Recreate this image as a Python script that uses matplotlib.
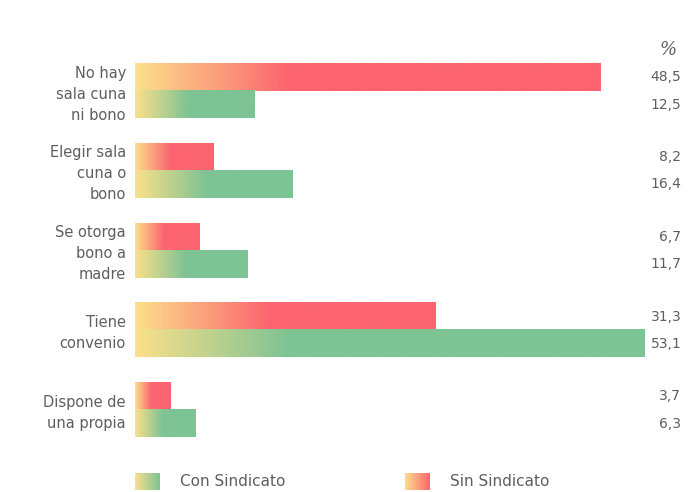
import numpy as np
import matplotlib
matplotlib.use('Agg')
import matplotlib.pyplot as plt
from matplotlib.colors import to_rgb

categorias = ['No hay\nsala cuna\nni bono', 'Elegir sala\ncuna o\nbono',
              'Se otorga\nbono a\nmadre', 'Tiene\nconvenio', 'Dispone de\nuna propia']
sin_sindicato = [48.5, 8.2, 6.7, 31.3, 3.7]
con_sindicato = [12.5, 16.4, 11.7, 53.1, 6.3]
etiquetas_sin = ['48,5', '8,2', '6,7', '31,3', '3,7']
etiquetas_con = ['12,5', '16,4', '11,7', '53,1', '6,3']

AMARILLO = to_rgb('#fbe08a')
ROJO = to_rgb('#fb6470')
VERDE = to_rgb('#7ec394')
TEXTO = '#5e5e5e'

plt.rcParams['font.family'] = ['DejaVu Sans']

W, H = 693, 492
fig = plt.figure(figsize=(W / 100, H / 100), dpi=100)

# capa de fondo en pixeles (leyenda, simbolo %)
bg = fig.add_axes([0, 0, 1, 1])
bg.axis('off')

px_unit = 9.6
x0 = 135
ax = fig.add_axes([x0 / W, 0, (W - x0) / W, 1])
ax.axis('off')


def gradiente(ax, x_ini, x_fin, y0, y1, color, frac=0.45, tope=16):
    n = 200
    xs = np.linspace(x_ini, x_fin, n)
    largo = min((x_fin - x_ini) * frac, tope) if frac else (x_fin - x_ini)
    t = np.clip((xs - x_ini) / largo, 0, 1)
    a = np.array(AMARILLO)
    b = np.array(color)
    img = a[None, :] * (1 - t[:, None]) + b[None, :] * t[:, None]
    ax.imshow(img[None, :, :], extent=(x_ini, x_fin, y1, y0), aspect='auto',
              interpolation='bilinear', zorder=2)


alto = 0.34
for i, cat in enumerate(categorias):
    gradiente(ax, 0, sin_sindicato[i], i - alto, i, ROJO)
    gradiente(ax, 0, con_sindicato[i], i, i + alto, VERDE)
    ax.text(-0.95, i + 0.04, cat, ha='right', va='center', fontsize=10.5,
            color=TEXTO, linespacing=1.5)
    ax.text(56.9, i - alto / 2, etiquetas_sin[i], ha='right', va='center',
            fontsize=10, color=TEXTO)
    ax.text(56.9, i + alto / 2, etiquetas_con[i], ha='right', va='center',
            fontsize=10, color=TEXTO)

ax.set_xlim(0, (W - x0) / px_unit)
ax.set_ylim((H - 91) / 79.75, -91 / 79.75)

bg.text(668, 50, '%', ha='center', va='center', fontsize=13, color=TEXTO,
        style='italic', family='DejaVu Serif')

# leyenda
gradiente(bg, 135, 160, 473, 490, VERDE, frac=0)
bg.text(180, 482, 'Con Sindicato', ha='left', va='center', fontsize=11, color=TEXTO)
gradiente(bg, 405, 430, 473, 490, ROJO, frac=0)
bg.text(450, 482, 'Sin Sindicato', ha='left', va='center', fontsize=11, color=TEXTO)
bg.set_xlim(0, W)
bg.set_ylim(H, 0)

fig.savefig('out.png', dpi=100)
